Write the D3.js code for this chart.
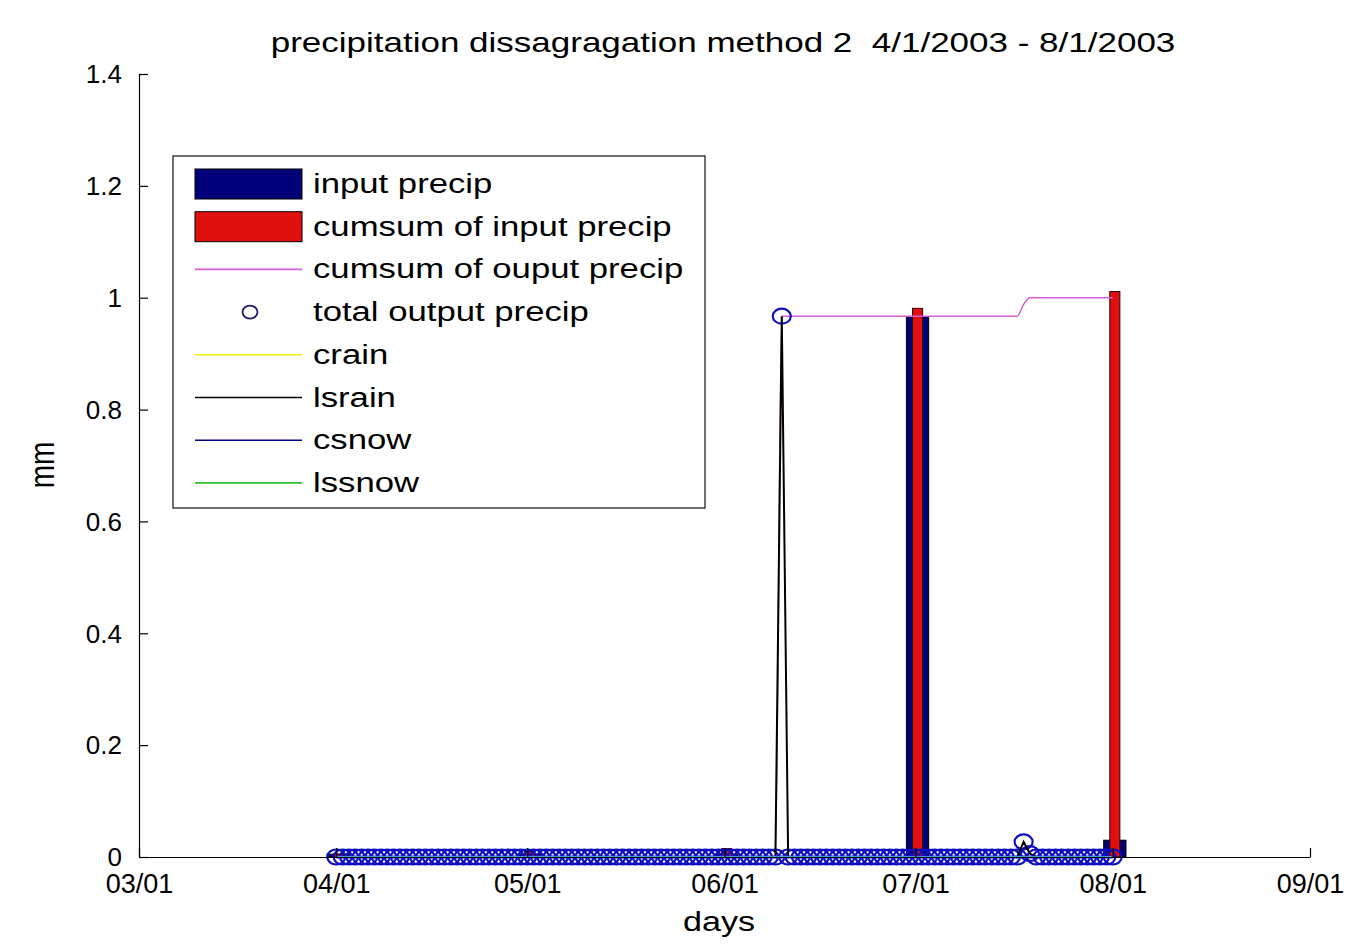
<!DOCTYPE html>
<html><head><meta charset="utf-8">
<script src="https://cdn.jsdelivr.net/npm/d3@7"></script>
<style>
body{margin:0;background:#fff}
svg{display:block}
text{font-family:"Liberation Sans",Arial,sans-serif;fill:#000;white-space:pre}
</style>
</head><body>
<svg id="c" width="1348" height="952"></svg>
<script>
// ---------------- data ----------------
const titleText = "precipitation dissagragation method 2  4/1/2003 - 8/1/2003";
const xLabel = "days";
const yLabel = "mm";
const yTicks = [0, 0.2, 0.4, 0.6, 0.8, 1, 1.2, 1.4];
const domainStart = "2003-03-01";
const domainEnd = "2003-09-01";

// monthly bars
const barDates = ["2003-04-01", "2003-05-01", "2003-06-01", "2003-07-01", "2003-08-01"];
const inputPrecip = [0.005, 0.005, 0.005, 0.966, 0.03];
const cumsumInput = [0.005, 0.01, 0.015, 0.981, 1.011];

// daily series 2003-04-01 .. 2003-08-01
const dailyStart = "2003-04-01";
const dailyEnd = "2003-08-01";
const totalOutput = [
0,0,0,0,0,0,0,0,0,0,
0,0,0,0,0,0,0,0,0,0,
0,0,0,0,0,0,0,0,0,0,
0,0,0,0,0,0,0,0,0,0,
0,0,0,0,0,0,0,0,0,0,
0,0,0,0,0,0,0,0,0,0,
0,0,0,0,0,0,0,0,0,0,
0.967,0,0,0,0,0,0,0,0,0,
0,0,0,0,0,0,0,0,0,0,
0,0,0,0,0,0,0,0,0,0,
0,0,0,0,0,0,0,0,0.027,0.006,
0,0,0,0,0,0,0,0,0,0,
0,0,0];
const cumsumOutput = [
0,0,0,0,0,0,0,0,0,0,
0,0,0,0,0,0,0,0,0,0,
0,0,0,0,0,0,0,0,0,0,
0,0,0,0,0,0,0,0,0,0,
0,0,0,0,0,0,0,0,0,0,
0,0,0,0,0,0,0,0,0,0,
0,0,0,0,0,0,0,0,0,0,
0.967,0.967,0.967,0.967,0.967,0.967,0.967,0.967,0.967,0.967,
0.967,0.967,0.967,0.967,0.967,0.967,0.967,0.967,0.967,0.967,
0.967,0.967,0.967,0.967,0.967,0.967,0.967,0.967,0.967,0.967,
0.967,0.967,0.967,0.967,0.967,0.967,0.967,0.967,0.988,1.0,
1.0,1.0,1.0,1.0,1.0,1.0,1.0,1.0,1.0,1.0,
1.0,1.0,1.0];
const lsrain = [
0,0,0,0,0,0,0,0,0,0,
0,0,0,0,0,0,0,0,0,0,
0,0,0,0,0,0,0,0,0,0,
0,0,0,0,0,0,0,0,0,0,
0,0,0,0,0,0,0,0,0,0,
0,0,0,0,0,0,0,0,0,0,
0,0,0,0,0,0,0,0,0,0,
0.967,0,0,0,0,0,0,0,0,0,
0,0,0,0,0,0,0,0,0,0,
0,0,0,0,0,0,0,0,0,0,
0,0,0,0,0,0,0,0,0.027,0.006,
0,0,0,0,0,0,0,0,0,0,
0,0,0];
const crain = [
0,0,0,0,0,0,0,0,0,0, 0,0,0,0,0,0,0,0,0,0, 0,0,0,0,0,0,0,0,0,0,
0,0,0,0,0,0,0,0,0,0, 0,0,0,0,0,0,0,0,0,0, 0,0,0,0,0,0,0,0,0,0,
0,0,0,0,0,0,0,0,0,0, 0,0,0,0,0,0,0,0,0,0, 0,0,0,0,0,0,0,0,0,0,
0,0,0,0,0,0,0,0,0,0, 0,0,0,0,0,0,0,0,0,0, 0,0,0,0,0,0,0,0,0,0,
0,0,0];
const csnow = [
0,0,0,0,0,0,0,0,0,0, 0,0,0,0,0,0,0,0,0,0, 0,0,0,0,0,0,0,0,0,0,
0,0,0,0,0,0,0,0,0,0, 0,0,0,0,0,0,0,0,0,0, 0,0,0,0,0,0,0,0,0,0,
0,0,0,0,0,0,0,0,0,0, 0,0,0,0,0,0,0,0,0,0, 0,0,0,0,0,0,0,0,0,0,
0,0,0,0,0,0,0,0,0,0, 0,0,0,0,0,0,0,0,0,0, 0,0,0,0,0,0,0,0,0,0,
0,0,0];
const lssnow = [
0,0,0,0,0,0,0,0,0,0, 0,0,0,0,0,0,0,0,0,0, 0,0,0,0,0,0,0,0,0,0,
0,0,0,0,0,0,0,0,0,0, 0,0,0,0,0,0,0,0,0,0, 0,0,0,0,0,0,0,0,0,0,
0,0,0,0,0,0,0,0,0,0, 0,0,0,0,0,0,0,0,0,0, 0,0,0,0,0,0,0,0,0,0,
0,0,0,0,0,0,0,0,0,0, 0,0,0,0,0,0,0,0,0,0, 0,0,0,0,0,0,0,0,0,0,
0,0,0];

const legendLabels = ["input precip", "cumsum of input precip", "cumsum of ouput precip",
  "total output precip", "crain", "lsrain", "csnow", "lssnow"];

// ---------------- drawing ----------------
const parse = d3.timeParse("%Y-%m-%d");
const svg = d3.select("#c");

const x = d3.scaleTime().domain([parse(domainStart), parse(domainEnd)]).range([139, 1310]);
const y = d3.scaleLinear().domain([0, 1.4]).range([857, 74]);

const days = d3.timeDay.range(parse(dailyStart), d3.timeDay.offset(parse(dailyEnd), 1));
const series = (vals) => days.map((d, i) => ({d, v: vals[i]}));

const COL = {
  navy: "#00007a", red: "#e01010", magenta: "#d45ed4", circ: "#0f0fc0",
  yellow: "#f0f000", black: "#000", blue: "#1a1ae0", green: "#4cc8c8"
};

const plot = svg.append("g");

// bars
const bars = barDates.map((s, i) => ({d: parse(s), a: inputPrecip[i], b: cumsumInput[i]}));
const ref = parse("2003-07-01");
const wA = x(d3.timeHour.offset(ref, 42)) - x(ref);
const wB = x(d3.timeHour.offset(ref, 19)) - x(ref);
const shift = x(d3.timeHour.offset(ref, 8)) - x(ref);
plot.selectAll("rect.a").data(bars).join("rect")
  .attr("x", d => x(d.d) + shift - wA).attr("width", 2 * wA)
  .attr("y", d => y(d.a)).attr("height", d => y(0) - y(d.a))
  .attr("fill", COL.navy).attr("stroke", "#000").attr("stroke-width", 1);
plot.selectAll("rect.b").data(bars).join("rect")
  .attr("x", d => x(d.d) + shift - wB).attr("width", 2 * wB)
  .attr("y", d => y(d.b)).attr("height", d => y(0) - y(d.b))
  .attr("fill", COL.red).attr("stroke", "#300").attr("stroke-width", 1);

const line = d3.line().x(p => x(p.d)).y(p => y(p.v));

// cumsum of output
plot.append("path").attr("d", line.curve(d3.curveMonotoneX)(series(cumsumOutput)))
  .attr("fill", "none").attr("stroke", COL.magenta).attr("stroke-width", 1.5);
line.curve(d3.curveLinear);

// total output circles
plot.selectAll("ellipse.o").data(series(totalOutput)).join("ellipse")
  .attr("cx", p => x(p.d)).attr("cy", p => y(p.v)).attr("rx", 9).attr("ry", 7.5)
  .attr("fill", "none").attr("stroke", COL.circ).attr("stroke-width", 2.2);

// component lines
[[crain, COL.yellow, 1.6], [lsrain, COL.black, 2], [csnow, COL.blue, 3], [lssnow, COL.green, 1.6]].forEach(([vals, c, w]) => {
  plot.append("path").attr("d", line(series(vals)))
    .attr("fill", "none").attr("stroke", c).attr("stroke-width", w);
});

// axes
const xAxis = d3.axisBottom(x).ticks(d3.timeMonth.every(1)).tickFormat(d3.timeFormat("%m/%d"))
  .tickSizeInner(-9).tickSizeOuter(0).tickPadding(17);
const gx = svg.append("g").attr("transform", "translate(0,857)").call(xAxis);
const yAxis = d3.axisLeft(y).tickValues(yTicks).tickFormat(d3.format("~g"))
  .tickSizeInner(-9).tickSizeOuter(0).tickPadding(17);
const gy = svg.append("g").attr("transform", "translate(139,0)").call(yAxis);
gx.selectAll("text").style("font-size", "27px");
gy.selectAll("text").style("font-size", "26px").attr("dy", "0.34em");
[gx, gy].forEach(g => {
  g.selectAll("text").attr("fill", "#000")
    .style("font-family", '"Liberation Sans",Arial,sans-serif');
  g.selectAll("line,path").attr("stroke", "#000").attr("stroke-width", 1.2);
});

// title & labels
function stretchText(txt, tx, ty, size, sx, anchor, rot) {
  return svg.append("text").text(txt)
    .attr("transform", `translate(${tx},${ty}) scale(${sx},1)` + (rot ? ` rotate(${rot})` : ""))
    .attr("text-anchor", anchor).style("font-size", size + "px");
}
stretchText(titleText, 723, 52, 28, 1.25, "middle");
stretchText(xLabel, 719, 931, 28, 1.22, "middle");
stretchText(yLabel, 54, 465, 28, 1.25, "middle", -90);

// legend
const lg = svg.append("g");
lg.append("rect").attr("x", 173).attr("y", 156).attr("width", 532).attr("height", 352)
  .attr("fill", "#fff").attr("stroke", "#111").attr("stroke-width", 1.2);
legendLabels.forEach((lab, i) => {
  const ry = 184 + i * 42.7;
  if (i === 0 || i === 1) {
    lg.append("rect").attr("x", 195).attr("y", ry - 15).attr("width", 107).attr("height", 30)
      .attr("fill", i === 0 ? COL.navy : COL.red).attr("stroke", "#000").attr("stroke-width", 1);
  } else if (i === 3) {
    lg.append("ellipse").attr("cx", 250).attr("cy", ry).attr("rx", 7.5).attr("ry", 6.5)
      .attr("fill", "none").attr("stroke", "#1a1a70").attr("stroke-width", 1.8);
  } else {
    const c = [null, null, COL.magenta, null, COL.yellow, COL.black, COL.navy, "#30c030"][i];
    lg.append("line").attr("x1", 195).attr("x2", 302).attr("y1", ry).attr("y2", ry)
      .attr("stroke", c).attr("stroke-width", 1.6);
  }
  lg.append("text").text(lab)
    .attr("transform", `translate(313,${ry + 9}) scale(1.24,1)`)
    .style("font-size", "28px");
});
</script>
</body></html>
